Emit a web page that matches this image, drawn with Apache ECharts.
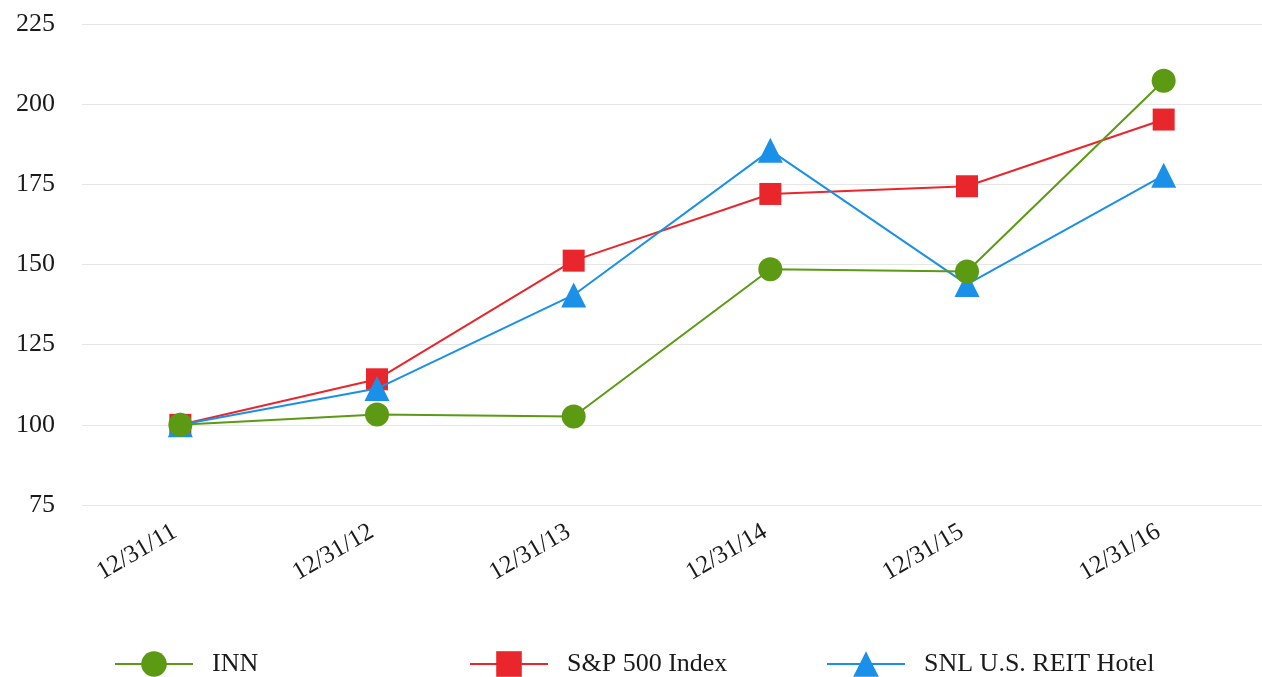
<!DOCTYPE html>
<html><head><meta charset="utf-8">
<script src="https://cdn.jsdelivr.net/npm/echarts@6/dist/echarts.min.js"></script>
<style>html,body{margin:0;padding:0;background:#fff}#c{width:1262px;height:677px}</style>
</head><body><div id="c"></div>
<script>
const categories = ['12/31/11','12/31/12','12/31/13','12/31/14','12/31/15','12/31/16'];
const inn = [100, 103.2, 102.6, 148.5, 147.8, 207.3];
const sp500 = [100, 114.2, 151.2, 172.0, 174.4, 195.2];
const snl = [100, 111.3, 140.5, 185.6, 143.8, 177.8];
const yTicks = [75, 100, 125, 150, 175, 200, 225];

const font = 'Liberation Serif';
const green = '#5b9a12', red = '#e8262b', blue = '#1b90e8';
const chart = echarts.init(document.getElementById('c'));
function mkLegend(name, left){
  return {left: left, top: 646, data:[name], itemWidth: 78, itemHeight: 32,
    itemGap: 0, textStyle:{fontFamily: font, fontSize: 26, color:'#1a1a1a', padding:[0,0,0,14]}};
}
chart.setOption({
  animation: false,
  grid: {left: 82, right: -2, top: 24, bottom: 172},
  legend: [mkLegend('INN', 109), mkLegend('S&P 500 Index', 464), mkLegend('SNL U.S. REIT Hotel', 821)],
  xAxis: {type:'category', data: categories, boundaryGap: true,
    axisLine:{show:false}, axisTick:{show:false},
    axisLabel:{rotate: 30, margin: 22, fontFamily: font, fontSize: 25, color:'#1a1a1a', padding:[0,6,0,0]}},
  yAxis: {type:'value', min: yTicks[0], max: yTicks[yTicks.length-1], interval: 25,
    axisLine:{show:false}, axisTick:{show:false},
    splitLine:{lineStyle:{color:'#e6e6e6', width:1}},
    axisLabel:{margin: 27, fontFamily: font, fontSize: 26, color:'#1a1a1a'}},
  series: [
    {name:'S&P 500 Index', type:'line', data: sp500, symbol:'rect', symbolSize: 22,
      lineStyle:{color: red, width: 2}, itemStyle:{color: red}, z: 2},
    {name:'SNL U.S. REIT Hotel', type:'line', data: snl, symbol:'triangle', symbolSize: 25,
      lineStyle:{color: blue, width: 2}, itemStyle:{color: blue}, z: 3},
    {name:'INN', type:'line', data: inn, symbol:'circle', symbolSize: 24,
      lineStyle:{color: green, width: 2}, itemStyle:{color: green}, z: 4}
  ]
});
</script></body></html>
